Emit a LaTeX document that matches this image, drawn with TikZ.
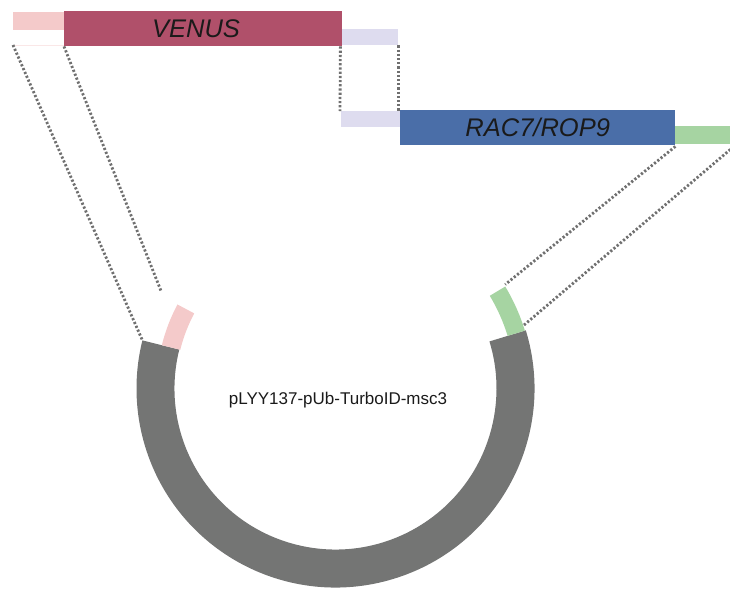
\documentclass[tikz,border=0pt]{standalone}
\usepackage{fontspec}
\setmainfont{Liberation Sans}
\definecolor{venusred}{HTML}{B0506A}
\definecolor{lightpink}{HTML}{F4CACA}
\definecolor{lavender}{HTML}{DEDCEF}
\definecolor{racblue}{HTML}{4A6EA8}
\definecolor{lightgreen}{HTML}{A6D4A2}
\definecolor{ringgray}{HTML}{747574}
\definecolor{dotgray}{HTML}{707070}
\definecolor{inkblack}{HTML}{1A1A1A}
\tikzset{
  bar/.style={rectangle, inner sep=0pt, anchor=north west, draw=none},
  genetext/.style={font=\fontsize{25.5}{25.5}\selectfont\itshape, text=inkblack},
  dotline/.style={draw=dotgray, line width=2.8pt, dash pattern=on 2.2pt off 2pt},
}
\begin{document}
\begin{tikzpicture}[x=1pt, y=-1pt]
  \useasboundingbox (0,0) rectangle (730,590);

  % cassette bars along the top
  \node[bar, fill=lightpink, minimum width=51pt, minimum height=18pt] (pinkL) at (13,12) {};
  \draw[lightpink!45, line width=0.6pt] (pinkL.south west |- 0,45) -- (64,45);
  \node[bar, fill=venusred, minimum width=278pt, minimum height=35pt] (venus) at (64,11) {};
  \node[genetext] (venustxt) at (196,28.5) {VENUS};
  \node[bar, fill=lavender, minimum width=56pt, minimum height=16pt] (lavT) at (342,29) {};
  \node[bar, fill=lavender, minimum width=59pt, minimum height=16pt] (lavB) at (341,111) {};
  \node[bar, fill=racblue, minimum width=275pt, minimum height=35pt, genetext] (rac) at (400,110) {RAC7/ROP9};
  \node[bar, fill=lightgreen, minimum width=55pt, minimum height=18pt] (greenR) at (675,126) {};

  % plasmid ring
  \coordinate (c) at (335.5,388.5);
  \begin{scope}[shift={(c)}]
    \fill[ringgray] (17:199pt) arc[start angle=17, end angle=-194, radius=199pt]
      -- (-194:161pt) arc[start angle=-194, end angle=17, radius=161pt] -- cycle;
    \fill[lightpink] (152:179pt) arc[start angle=152, end angle=166, radius=179pt]
      -- (166:160pt) arc[start angle=166, end angle=152, radius=160pt] -- cycle;
    \fill[lightgreen] (17:198pt) arc[start angle=17, end angle=31, radius=198pt]
      -- (31:180pt) arc[start angle=31, end angle=17, radius=180pt] -- cycle;
    \coordinate (pinkA) at (166:199pt);
    \coordinate (pinkB) at (151:199pt);
    \coordinate (greenA) at (31.5:199pt);
    \coordinate (greenB) at (18.5:198pt);
  \end{scope}
  \node[font=\fontsize{17}{17}\selectfont, text=inkblack] (plasmid) at (338,400) {pLYY137-pUb-TurboID-msc3};

  % dotted guide lines
  \draw[dotline] (13,45) -- (pinkA);
  \draw[dotline] (venus.south west) -- (pinkB);
  \draw[dotline] ([xshift=-2pt]venus.south east) -- ([xshift=-1pt]lavB.north west);
  \draw[dotline] (lavT.south east) -- (lavT.south east |- lavB.north);
  \draw[dotline] ([yshift=-1pt]rac.south east) -- (greenA);
  \draw[dotline] ([yshift=-5pt]greenR.south east) -- (greenB);
\end{tikzpicture}
\end{document}
